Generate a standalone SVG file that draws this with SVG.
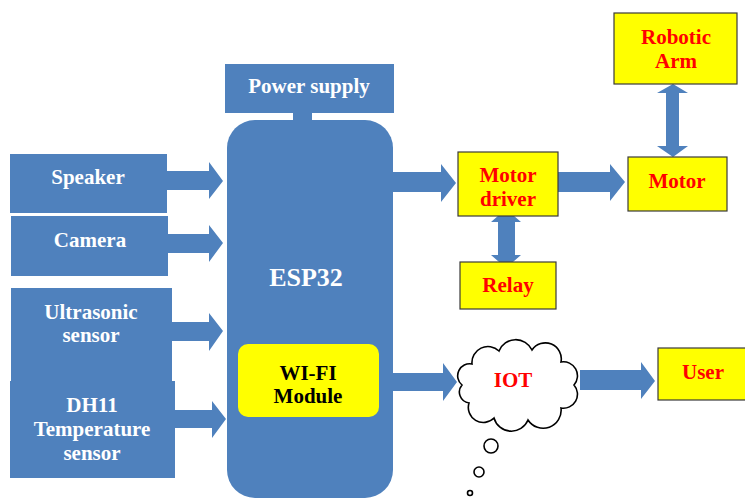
<svg xmlns="http://www.w3.org/2000/svg" width="745" height="499" viewBox="0 0 745 499">
<style>
.blue{fill:#4F81BD}
.ybox{fill:#FFFF00;stroke:#3a3a3a;stroke-width:1.2}
text{font-family:'Liberation Serif','DejaVu Serif','Times New Roman',serif;font-weight:700;font-size:21px;text-anchor:middle;dominant-baseline:central}
.wt{fill:#FFFFFF}
.rt{fill:#FF0000}
.kt{fill:#000000}
.bub{fill:#FFFFFF;stroke:#000;stroke-width:1.6}
</style>
<rect width="745" height="499" fill="#FFFFFF"/>

<g id="connectors" class="blue">
  <rect x="293" y="112" width="19" height="10"/>
  <polygon points="166,171 209,171 209,162 223,181 209,199 209,190 166,190"/>
  <polygon points="167,234 209,234 209,225 223,243 209,262 209,253 167,253"/>
  <polygon points="171,322 209,322 209,313 223,331 209,351 209,341 171,341"/>
  <polygon points="174,410 212,410 212,401 226,419 212,438 212,428 174,428"/>
  <polygon points="392,172 441,172 441,164 456,183 441,202 441,192 392,192"/>
  <polygon points="506,209 521,222 515,222 515,255 521,255 506,268 491,255 498,255 498,222 491,222"/>
  <polygon points="558,172 610,172 610,164 625,182 610,201 610,192 558,192"/>
  <polygon points="673,84 688,93 679,93 679,146 688,146 673,157 657,146 666,146 666,93 657,93"/>
  <polygon points="392,373 443,373 443,363 457,382 443,401 443,391 392,391"/>
  <polygon points="580,370 641,370 641,362 655,381 641,399 641,390 580,390"/>
</g>

<g id="speaker"><rect class="blue" x="10" y="154" width="157" height="59"/><text class="wt" x="88" y="177">Speaker</text></g>
<g id="camera"><rect class="blue" x="11" y="216" width="157" height="60"/><text class="wt" x="90" y="240">Camera</text></g>
<g id="ultrasonic"><rect class="blue" x="11" y="288" width="161" height="94"/><text class="wt" x="91" y="312">Ultrasonic</text><text class="wt" x="91" y="335">sensor</text></g>
<g id="dh11"><rect class="blue" x="10" y="381" width="165" height="97"/><text class="wt" x="92" y="405">DH11</text><text class="wt" x="92" y="429">Temperature</text><text class="wt" x="92" y="453">sensor</text></g>

<g id="power"><rect class="blue" x="225" y="64" width="169" height="49"/><text class="wt" x="309" y="86">Power supply</text></g>

<g id="esp32">
  <rect class="blue" x="227" y="120" width="166" height="378" rx="28" ry="28"/>
  <text class="wt" x="306" y="277" style="font-size:26px">ESP32</text>
</g>
<g id="wifi">
  <rect x="238" y="344" width="141" height="73" rx="10" ry="10" fill="#FFFF00"/>
  <text class="kt" x="308" y="373">WI-FI</text>
  <text class="kt" x="308" y="396">Module</text>
</g>

<g id="motordriver"><rect class="ybox" x="458" y="152" width="100" height="64"/><text class="rt" x="508" y="175">Motor</text><text class="rt" x="508" y="199">driver</text></g>
<g id="relay"><rect class="ybox" x="460" y="262" width="96" height="47"/><text class="rt" x="508" y="285">Relay</text></g>
<g id="motor"><rect class="ybox" x="628" y="157" width="99" height="54"/><text class="rt" x="677" y="181">Motor</text></g>
<g id="robotic"><rect class="ybox" x="614" y="13" width="123" height="71"/><text class="rt" x="676" y="37">Robotic</text><text class="rt" x="676" y="61">Arm</text></g>

<g id="iot">
  <path class="bub" d="M462,385 A12,12 0 0 1 472,364 A16,16 0 0 1 499,351 A18,18 0 0 1 532,350 A16,16 0 0 1 561,362 A14,14 0 0 1 574,385 A14,14 0 0 1 561,408 A18,18 0 0 1 528,420 A18,18 0 0 1 494,418 A15,15 0 0 1 469,403 A11,11 0 0 1 462,385 Z"/>
  <text class="rt" x="513" y="380">IOT</text>
  <circle class="bub" cx="491" cy="446" r="7"/>
  <circle class="bub" cx="479" cy="472" r="5"/>
  <circle class="bub" cx="470" cy="493" r="2.5"/>
</g>

<g id="user"><rect class="ybox" x="658" y="348" width="90" height="52"/><text class="rt" x="703" y="372">User</text></g>
</svg>
